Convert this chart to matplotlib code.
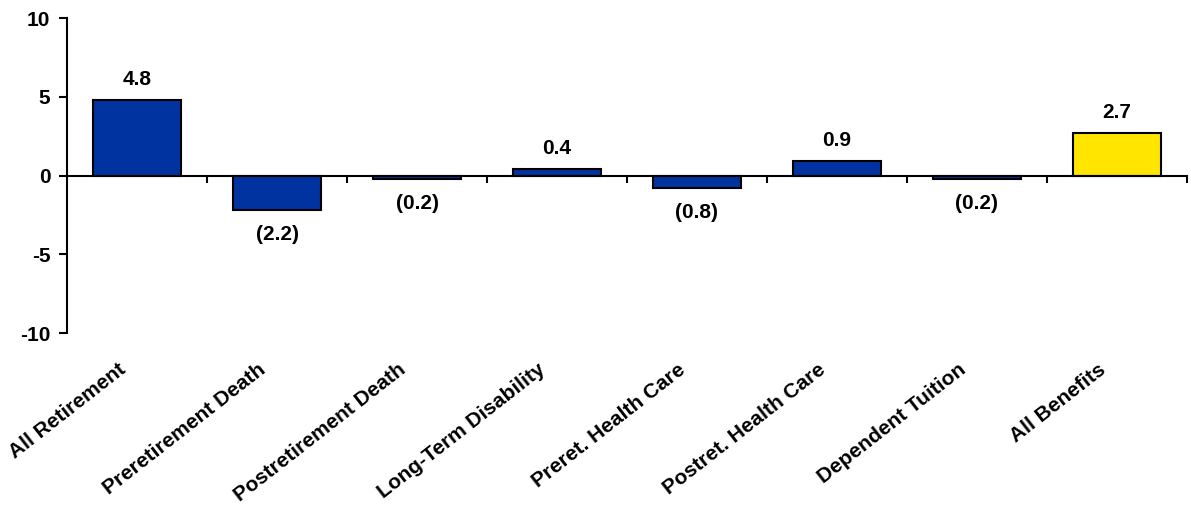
import matplotlib
matplotlib.use("Agg")
import matplotlib.pyplot as plt

plt.rcParams['font.family'] = ['Liberation Sans', 'DejaVu Sans']
plt.rcParams['font.weight'] = 'bold'
plt.rcParams['axes.unicode_minus'] = False

# Data
categories = ["All Retirement", "Preretirement Death", "Postretirement Death",
              "Long-Term Disability", "Preret. Health Care", "Postret. Health Care",
              "Dependent Tuition", "All Benefits"]
values = [4.8, -2.2, -0.2, 0.4, -0.8, 0.9, -0.2, 2.7]
colors = ["#0033A0"] * 7 + ["#FFE500"]

fig = plt.figure(figsize=(11.91, 5.12), dpi=100)
ax = fig.add_axes([0.0563, 0.3496, 0.9403, 0.6152])

x = range(len(categories))
ax.bar(x, values, width=0.63, color=colors, edgecolor="black", linewidth=1.5, zorder=2)

ax.set_xlim(-0.5, len(categories) - 0.5)
ax.set_ylim(-10, 10)
ax.set_yticks([-10, -5, 0, 5, 10])
ax.tick_params(axis='y', labelsize=15, width=1.5, length=6, direction='out', pad=6)

# x axis on zero line, ticks at category boundaries
ax.spines['top'].set_visible(False)
ax.spines['right'].set_visible(False)
ax.spines['bottom'].set_position(('data', 0))
ax.spines['bottom'].set_linewidth(1.5)
ax.spines['left'].set_linewidth(1.5)
ax.set_xticks([i + 0.5 for i in range(len(categories))])
ax.set_xticklabels([])
ax.tick_params(axis='x', width=1.5, length=5, direction='out')

# value labels
for i, v in enumerate(values):
    if v >= 0:
        ax.annotate(f"{v:.1f}", (i, v), xytext=(0, 8), textcoords='offset points',
                    ha='center', va='bottom', fontsize=15, fontweight='bold')
    else:
        ax.annotate(f"({abs(v):.1f})", (i, v), xytext=(0, -11), textcoords='offset points',
                    ha='center', va='top', fontsize=15, fontweight='bold')

# rotated category labels
for i, c in enumerate(categories):
    ax.text(i - 0.14, -11.7, c, rotation=38, rotation_mode='anchor', ha='right', va='top',
            fontsize=15, fontweight='bold', clip_on=False)

fig.savefig("out.png", dpi=100)
